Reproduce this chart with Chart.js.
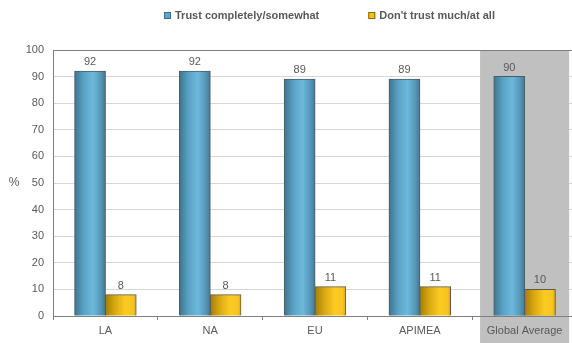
<!DOCTYPE html>
<html>
<head>
<meta charset="utf-8">
<script src="https://cdn.jsdelivr.net/npm/chart.js@4.4.1/dist/chart.umd.min.js"></script>
<style>
  html, body { margin: 0; padding: 0; background: #ffffff; overflow: hidden; }
  #wrap { width: 572px; height: 343px; overflow: hidden; position: relative; }
  canvas { display: block; }
</style>
</head>
<body>
<div id="wrap"><canvas id="c" width="580" height="343"></canvas></div>
<script>
const categories = ['LA', 'NA', 'EU', 'APIMEA', 'Global Average'];
const trustValues = [92, 92, 89, 89, 90];
const distrustValues = [8, 8, 11, 11, 10];
const seriesNames = ['Trust completely/somewhat', "Don't trust much/at all"];
const yTicks = [0, 10, 20, 30, 40, 50, 60, 70, 80, 90, 100];
const highlightCategory = 'Global Average';
const yAxisLabel = '%';

const TEXT = '#595959';
const CAT_PCT = 0.586;

function barGradient(c, stops, fallback) {
  const chart = c.chart;
  const xs = chart.scales && chart.scales.x;
  if (c.dataIndex === undefined || !xs || xs.width === undefined) return fallback;
  const center = xs.getPixelForValue(c.dataIndex);
  const catW = xs.width / categories.length;
  const w = catW * CAT_PCT / 2;
  const left = c.datasetIndex === 0 ? center - w : center;
  const g = chart.ctx.createLinearGradient(left, 0, left + w, 0);
  stops.forEach(s => g.addColorStop(s[0], s[1]));
  return g;
}

const blueStops = [[0, '#3e7590'], [0.3, '#5aa3c6'], [0.6, '#6cb8dc'], [0.85, '#5597b6'], [1, '#457a92']];
const yellowStops = [[0, '#a37d05'], [0.3, '#d8a812'], [0.65, '#fccb22'], [0.9, '#f7c420'], [1, '#d9a915']];

const bgPlugin = {
  id: 'bgPlugin',
  beforeDatasetsDraw(chart) {
    const ctx = chart.ctx, xs = chart.scales.x, a = chart.chartArea;
    const idx = categories.indexOf(highlightCategory);
    const cx = xs.getPixelForValue(idx);
    const catW = xs.width / categories.length;
    const bw = catW * 0.85;
    ctx.save();
    ctx.fillStyle = '#c0c0c0';
    ctx.fillRect(cx - bw / 2, a.top, bw, chart.height - a.top);
    ctx.strokeStyle = '#808080';
    ctx.lineWidth = 1;
    ctx.beginPath();
    ctx.moveTo(a.left, Math.round(a.top) + 0.5);
    ctx.lineTo(a.right, Math.round(a.top) + 0.5);
    ctx.stroke();
    ctx.restore();
  },
  afterDatasetsDraw(chart) {
    const ctx = chart.ctx;
    ctx.save();
    ctx.font = '11px "Liberation Sans", Arial, sans-serif';
    ctx.fillStyle = TEXT;
    ctx.textAlign = 'center';
    ctx.textBaseline = 'middle';
    chart.data.datasets.forEach((ds, di) => {
      chart.getDatasetMeta(di).data.forEach((el, i) => {
        ctx.fillText(String(ds.data[i]), el.x, el.y - 9);
      });
    });
    // y axis label
    ctx.font = '12px "Liberation Sans", Arial, sans-serif';
    ctx.fillText(yAxisLabel, 14, (chart.chartArea.top + chart.chartArea.bottom) / 2);
    // legend
    ctx.font = 'bold 11px "Liberation Sans", Arial, sans-serif';
    ctx.textAlign = 'left';
    const boxes = [['#5aa7cb', '#3e6f86'], ['#f3c21a', '#8a6a00']];
    const gap = 49, box = 7, boxGap = 4;
    const widths = seriesNames.map(n => ctx.measureText(n).width);
    let x = 164;
    const y = 15.5;
    seriesNames.forEach((n, i) => {
      ctx.fillStyle = boxes[i][0];
      ctx.fillRect(x, y - 3.5, box, box);
      ctx.strokeStyle = boxes[i][1];
      ctx.lineWidth = 1;
      ctx.strokeRect(x + 0.5, y - 3.5 + 0.5, box - 1, box - 1);
      ctx.fillStyle = TEXT;
      ctx.fillText(n, x + box + boxGap, y + 0.5);
      x += box + boxGap + widths[i] + gap;
    });
    ctx.restore();
  }
};

new Chart(document.getElementById('c'), {
  type: 'bar',
  data: {
    labels: categories,
    datasets: [
      {
        label: seriesNames[0],
        data: trustValues,
        backgroundColor: c => barGradient(c, blueStops, '#5aa7cb'),
        borderColor: '#4d5b63',
        borderWidth: 1,
        borderSkipped: 'bottom',
        inflateAmount: 0.5,
        categoryPercentage: CAT_PCT,
        barPercentage: 1.0
      },
      {
        label: seriesNames[1],
        data: distrustValues,
        backgroundColor: c => barGradient(c, yellowStops, '#f3c21a'),
        borderColor: '#5e5a4a',
        borderWidth: 1,
        borderSkipped: 'bottom',
        inflateAmount: 0.5,
        categoryPercentage: CAT_PCT,
        barPercentage: 1.0
      }
    ]
  },
  options: {
    responsive: false,
    animation: false,
    devicePixelRatio: 1,
    layout: { padding: { top: 50, right: 3, left: 0, bottom: 0 } },
    plugins: { legend: { display: false }, tooltip: { enabled: false } },
    scales: {
      x: {
        afterFit(s) { s.height = 27; },
        grid: { drawOnChartArea: false, drawTicks: true, tickLength: 4, color: '#808080', offset: true },
        border: { color: '#808080', width: 1, z: 1 },
        ticks: { color: TEXT, font: { family: '"Liberation Sans", Arial, sans-serif', size: 11 }, padding: 4, z: 1, maxRotation: 0, autoSkip: false }
      },
      y: {
        min: 0, max: 100,
        afterFit(s) { s.width = 53; },
        afterBuildTicks(s) { s.ticks = yTicks.map(v => ({ value: v })); },
        grid: { color: '#d6d6d6', drawTicks: false },
        border: { color: '#808080', width: 1 },
        ticks: { color: TEXT, font: { family: '"Liberation Sans", Arial, sans-serif', size: 11 }, padding: 9 }
      }
    }
  },
  plugins: [bgPlugin]
});
</script>
</body>
</html>
